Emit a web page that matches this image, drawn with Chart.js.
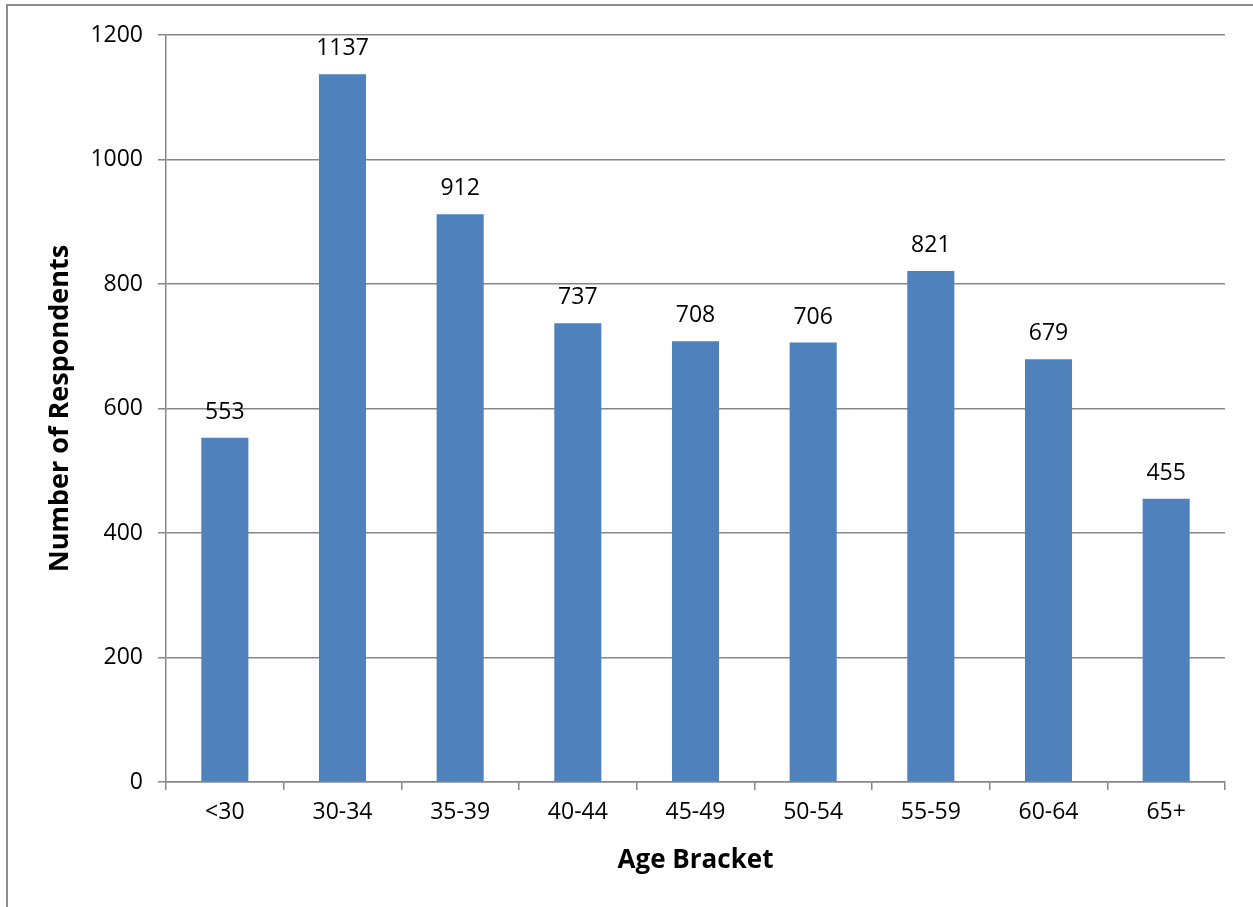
<!DOCTYPE html>
<html>
<head>
<meta charset="utf-8">
<script src="https://cdn.jsdelivr.net/npm/chart.js@4"></script>
<style>
  html, body { margin: 0; padding: 0; background: #fff; overflow: hidden; }
  #frame { position: absolute; left: 6px; top: 4px; width: 1400px; height: 1100px; border: 2px solid #8c8c8c; box-sizing: border-box; }
  #c { position: absolute; left: 0; top: 0; }
</style>
</head>
<body>
<div id="frame"></div>
<canvas id="c" width="1253" height="907"></canvas>
<script>
const categories = ['<30', '30-34', '35-39', '40-44', '45-49', '50-54', '55-59', '60-64', '65+'];
const respondents = [553, 1137, 912, 737, 708, 706, 821, 679, 455];
const yTicks = [0, 200, 400, 600, 800, 1000, 1200];

const FONT = "'Open Sans', 'DejaVu Sans', sans-serif";
const GRID = '#878787';

const valueLabels = {
  id: 'valueLabels',
  afterDatasetsDraw(chart) {
    const ctx = chart.ctx;
    const meta = chart.getDatasetMeta(0);
    ctx.save();
    ctx.font = '23px ' + FONT;
    ctx.fillStyle = '#000';
    ctx.textAlign = 'center';
    ctx.textBaseline = 'alphabetic';
    meta.data.forEach((bar, i) => {
      ctx.fillText(String(chart.data.datasets[0].data[i]), bar.x, bar.y - 19);
    });
    ctx.restore();
  }
};

new Chart(document.getElementById('c'), {
  type: 'bar',
  data: {
    labels: categories,
    datasets: [{
      data: respondents,
      backgroundColor: '#4F81BD',
      borderWidth: 0,
      barPercentage: 0.4,
      categoryPercentage: 1.0
    }]
  },
  options: {
    responsive: false,
    animation: false,
    layout: { padding: { left: 0, top: 35, right: 28, bottom: 0 } },
    plugins: { legend: { display: false }, tooltip: { enabled: false } },
    scales: {
      y: {
        min: 0, max: 1200,
        afterFit(scale) { scale.width = 166; },
        afterBuildTicks(scale) { scale.ticks = yTicks.map(v => ({ value: v })); },
        ticks: { color: '#000', font: { family: FONT, size: 23 }, padding: 15, callback: (v) => String(v) },
        grid: { color: GRID, lineWidth: 1.5, tickLength: 8, drawTicks: true },
        border: { color: GRID, width: 1.5 },
        title: { display: true, text: 'Number of Respondents', color: '#000', font: { family: FONT, size: 27, weight: 'bold' }, padding: { top: 44, bottom: 0 } }
      },
      x: {
        afterFit(scale) { scale.height = 125; },
        ticks: { color: '#000', font: { family: FONT, size: 23 }, padding: 9 },
        grid: { offset: true, drawOnChartArea: false, drawTicks: true, tickLength: 8, color: GRID, lineWidth: 1.5 },
        border: { color: GRID, width: 1.5 },
        title: { display: true, text: 'Age Bracket', color: '#000', font: { family: FONT, size: 26, weight: 'bold' }, padding: { top: 0, bottom: 31 } }
      }
    }
  },
  plugins: [valueLabels]
});
</script>
</body>
</html>
